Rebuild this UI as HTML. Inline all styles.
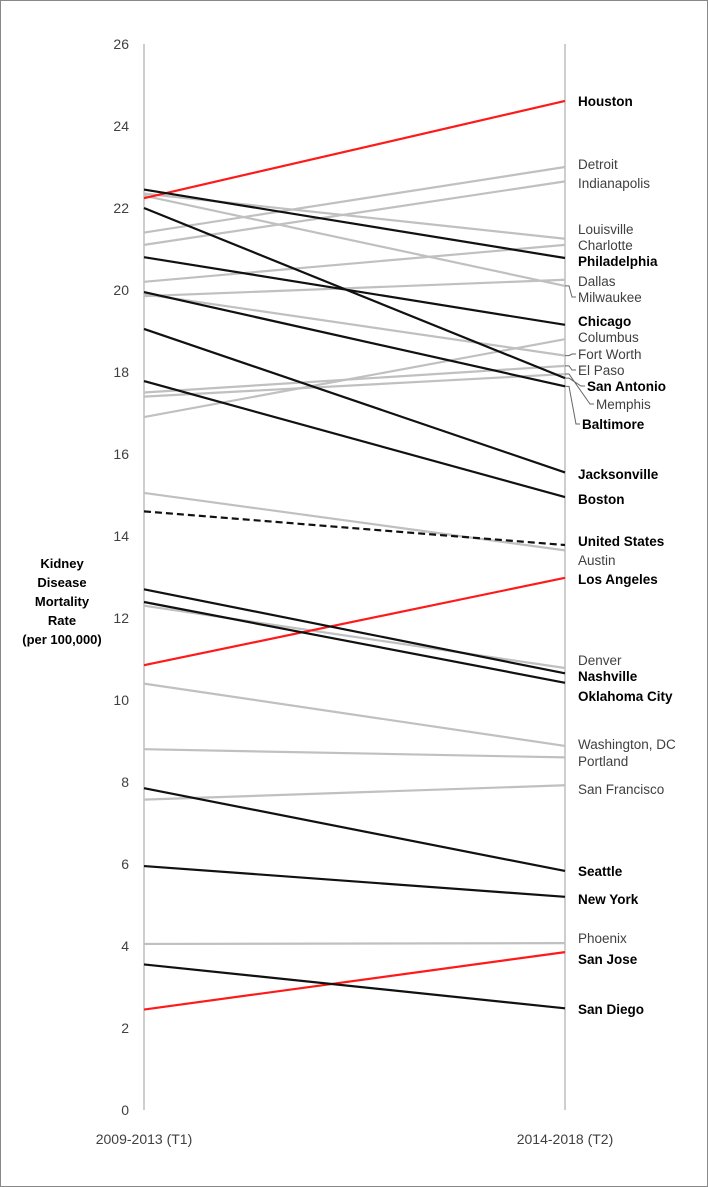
<!DOCTYPE html>
<html><head><meta charset="utf-8"><style>
body{margin:0;background:#fff}
svg{display:block;font-family:"Liberation Sans",sans-serif}
</style></head><body>
<svg id="c" width="708" height="1187" viewBox="0 0 708 1187">
<rect x="0.5" y="0.5" width="707" height="1186" fill="#fff" stroke="#888"/>
<g id="axes"></g><g id="lines"></g><g id="labels"></g>
</svg>
<script>
const cities=["Houston","Detroit","Indianapolis","Louisville","Charlotte","Philadelphia","Dallas","Milwaukee","Chicago","Columbus","Fort Worth","El Paso","San Antonio","Memphis","Baltimore","Jacksonville","Boston","United States","Austin","Los Angeles","Denver","Nashville","Oklahoma City","Washington, DC","Portland","San Francisco","Seattle","New York","Phoenix","San Jose","San Diego"];
const t1=[22.24,21.4,21.1,22.35,20.2,22.45,19.85,22.3,20.8,16.9,19.9,17.5,22.0,17.4,19.95,19.05,17.78,14.6,15.05,10.85,12.3,12.7,12.39,10.4,8.8,7.57,7.85,5.95,4.05,2.45,3.55];
const t2=[24.61,23.0,22.65,21.25,21.1,20.78,20.25,20.1,19.15,18.8,18.4,18.15,17.85,17.95,17.65,15.55,14.95,13.78,13.65,12.98,10.78,10.65,10.42,8.88,8.6,7.92,5.83,5.2,4.07,3.85,2.48];
const kind=["red","gray","gray","gray","gray","black","gray","gray","black","gray","gray","gray","black","gray","black","black","black","us","gray","red","gray","black","black","gray","gray","gray","black","black","gray","red","black"];
const yTicks=[0,2,4,6,8,10,12,14,16,18,20,22,24,26];
const xLabels=["2009-2013 (T1)","2014-2018 (T2)"];
const labelY={"Houston":101,"Detroit":164,"Indianapolis":183,"Louisville":229,"Charlotte":245,"Philadelphia":261,"Dallas":281,"Milwaukee":297,"Chicago":321,"Columbus":337,"Fort Worth":354,"El Paso":370,"San Antonio":386,"Memphis":404,"Baltimore":424,"Jacksonville":474,"Boston":499,"United States":541,"Austin":560,"Los Angeles":579,"Denver":660,"Nashville":676,"Oklahoma City":696,"Washington, DC":744,"Portland":761,"San Francisco":789,"Seattle":871,"New York":899,"Phoenix":938,"San Jose":959,"San Diego":1009};
const labelX={"San Antonio":587,"Memphis":596,"Baltimore":582};
const leaders=["Milwaukee","Fort Worth","El Paso","San Antonio","Memphis","Baltimore"];
const X1=144,X2=565,Y0=1110,PX=41;
const y=v=>Y0-v*PX;
const NS="http://www.w3.org/2000/svg";
function mk(t,a,p,txt){const e=document.createElementNS(NS,t);for(const k in a)e.setAttribute(k,a[k]);if(txt!=null)e.textContent=txt;p.appendChild(e);return e;}
const ax=document.getElementById('axes'),ln=document.getElementById('lines'),lb=document.getElementById('labels');
let e=mk('line',{x1:X1,x2:X1,y1:y(26),y2:y(0),stroke:'#bdbdbd','stroke-width':1.5},ax);


e=mk('line',{x1:X2,x2:X2,y1:y(26),y2:y(0),stroke:'#bdbdbd','stroke-width':1.5},ax);


yTicks.forEach(v=>{const t=mk('text',{x:129,y:y(v)+5,'text-anchor':'end','font-size':14,fill:'#404040'},ax,String(v));

});
[X1,X2].forEach((x,i)=>{const t=mk('text',{x:x,y:1144,'text-anchor':'middle','font-size':14,fill:'#404040'},ax,xLabels[i]);

});
const tt=mk('text',{x:62,'text-anchor':'middle','font-size':13,'font-weight':'bold',fill:'#000'},ax);


["Kidney","Disease","Mortality","Rate","(per 100,000)"].forEach((s,i)=>mk('tspan',{x:62,y:568+i*19},tt,s));
const col={red:'#ff1a1a',gray:'#c0c0c0',black:'#111',us:'#111'};
const order=[...cities.keys()].sort((a,b)=>(kind[a]==='gray'?0:1)-(kind[b]==='gray'?0:1));
order.forEach(i=>{const a={x1:X1,y1:y(t1[i]),x2:X2,y2:y(t2[i]),stroke:col[kind[i]],'stroke-width':2.2};if(kind[i]==='us')a['stroke-dasharray']='7,4';
const l=mk('line',a,ln);

});
cities.forEach((c,i)=>{const bold=kind[i]!=='gray';const lx=labelX[c]||578;const ly=labelY[c];
if(leaders.includes(c)){const p=mk('polyline',{points:`${X2},${y(t2[i])} ${X2+4},${y(t2[i])} ${lx-6},${ly} ${lx-2},${ly}`,fill:'none',stroke:'#666','stroke-width':1},lb);

}
const t=mk('text',{x:lx,y:ly+5,'font-size':13.5,'font-weight':bold?'bold':'normal',fill:bold?'#000':'#404040'},lb,c);

});
</script>
</body></html>
